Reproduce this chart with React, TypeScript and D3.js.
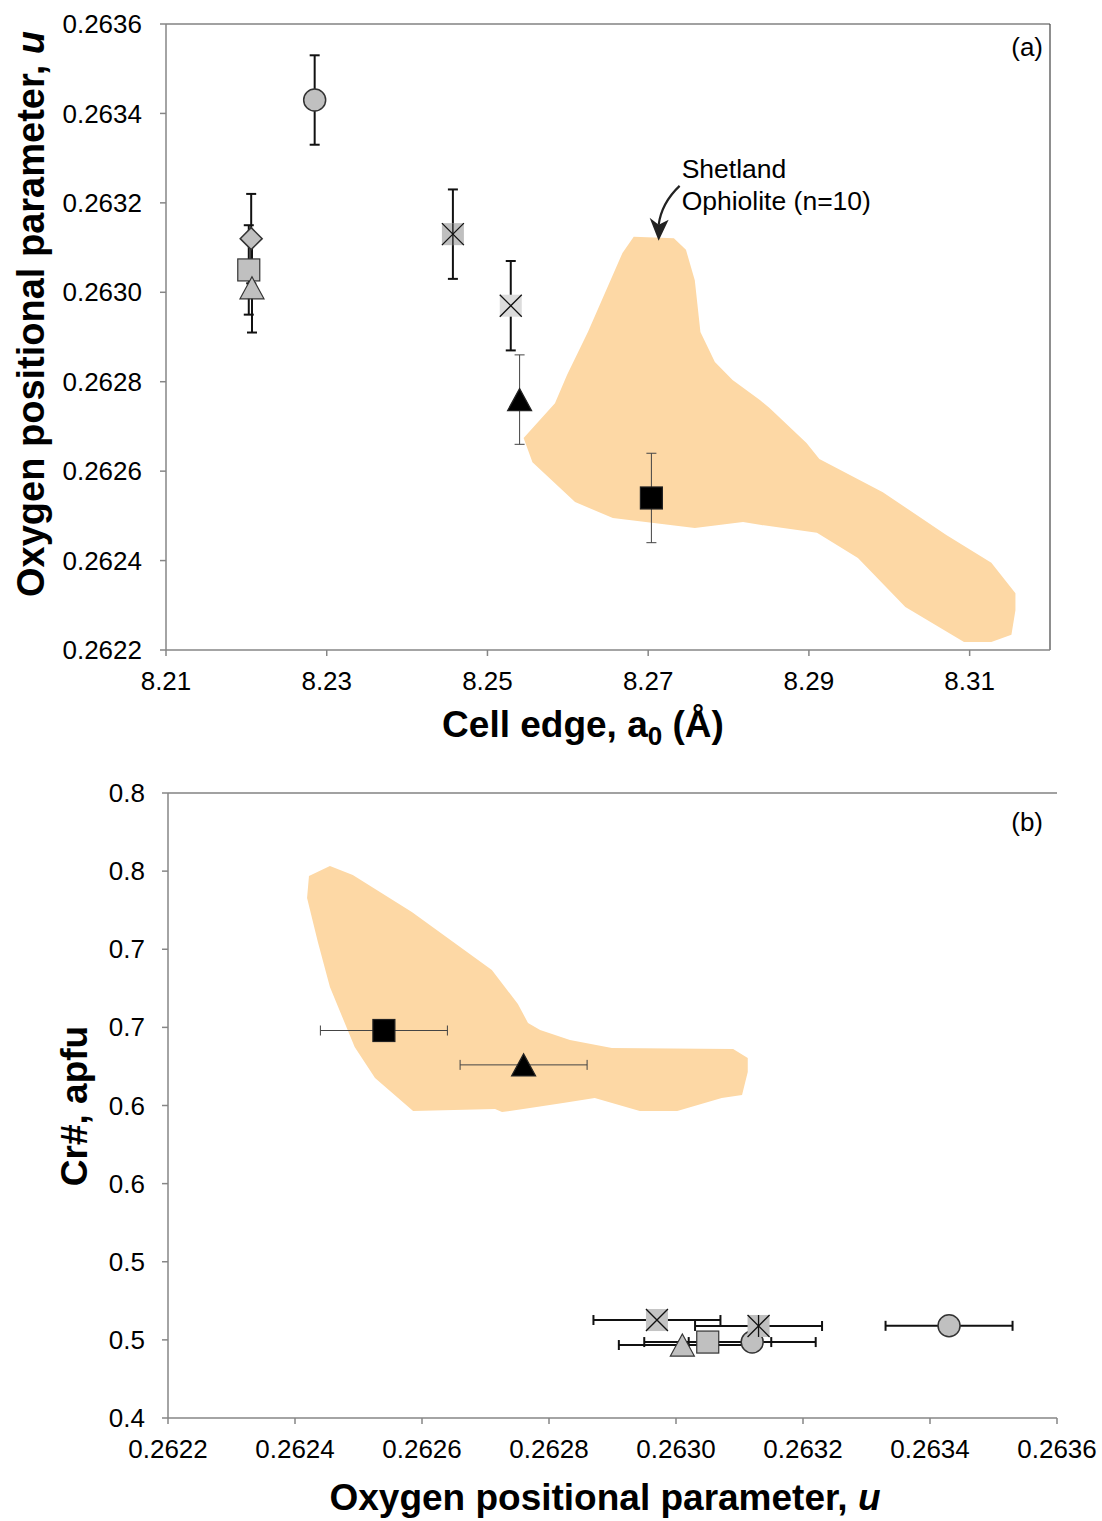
import * as d3 from "d3";

// ---- data ----
const seriesNames = ["circle", "diamond", "square", "triangle", "starSquare", "crossSquare", "blackTriangle", "blackSquare"];
const cellEdge = [8.2285, 8.2206, 8.2203, 8.2207, 8.2457, 8.2529, 8.254, 8.2704];
const oxygenU = [0.26343, 0.26312, 0.26305, 0.26301, 0.26313, 0.26297, 0.26276, 0.26254];
const oxygenUErr = [0.0001, 0.0001, 0.0001, 0.0001, 0.0001, 0.0001, 0.0001, 0.0001];
const crNumber = [0.459, 0.4486, 0.4486, 0.4467, 0.4589, 0.4627, 0.626, 0.648];

// Shetland Ophiolite field outlines
const shetlandA: [number, number][] = [
  [8.2682, 0.263124], [8.2732, 0.263121], [8.2747, 0.263095], [8.2758, 0.263027],
  [8.2765, 0.262911], [8.2783, 0.262844], [8.2805, 0.262804], [8.2839, 0.262759],
  [8.2851, 0.262741], [8.2897, 0.262663], [8.2913, 0.262627], [8.2992, 0.262553],
  [8.3071, 0.262457], [8.3127, 0.262395], [8.3157, 0.262327], [8.3157, 0.262289],
  [8.3152, 0.262234], [8.3127, 0.262218], [8.3093, 0.262218], [8.302, 0.262296],
  [8.2961, 0.262406], [8.291, 0.262462], [8.2839, 0.26248], [8.2818, 0.262486],
  [8.2758, 0.262473], [8.2656, 0.262495], [8.2609, 0.262531], [8.2556, 0.26262],
  [8.2545, 0.262674], [8.2584, 0.262752], [8.2599, 0.262815], [8.2625, 0.262911],
  [8.2668, 0.263088],
];
const shetlandB: [number, number][] = [
  [0.262422, 0.7469], [0.262455, 0.7533], [0.262491, 0.7475], [0.262584, 0.7238],
  [0.26271, 0.6867], [0.262751, 0.665], [0.262767, 0.6528], [0.262786, 0.6483],
  [0.262833, 0.6419], [0.262899, 0.6368], [0.26309, 0.6362], [0.263113, 0.6304],
  [0.263113, 0.6214], [0.263104, 0.6067], [0.263072, 0.6048], [0.263002, 0.5965],
  [0.262943, 0.5965], [0.262872, 0.6048], [0.262822, 0.6016], [0.26277, 0.5984],
  [0.262726, 0.5958], [0.262715, 0.5978], [0.262586, 0.5965], [0.262526, 0.6176],
  [0.262494, 0.6374], [0.262455, 0.6758], [0.262436, 0.7046], [0.262419, 0.7328],
];

// ticks
const cellEdgeTicks = [8.21, 8.23, 8.25, 8.27, 8.29, 8.31];
const uTicks = [0.2622, 0.2624, 0.2626, 0.2628, 0.263, 0.2632, 0.2634, 0.2636];
const crTicks = [0.4, 0.45, 0.5, 0.55, 0.6, 0.65, 0.7, 0.75, 0.8];
const crTickLabels = ["0.4", "0.5", "0.5", "0.6", "0.6", "0.7", "0.7", "0.8", "0.8"];

// marker look per series, panel a / panel b
const markerA = ["circle", "diamond", "square", "triangle", "starSquare", "crossSquare", "triangle", "square"];
const markerB = ["circle", "circle", "square", "triangle", "starSquare", "crossSquare", "triangle", "square"];
const fillA = ["#c0c0c0", "#c0c0c0", "#c0c0c0", "#c0c0c0", "#bfbfbf", "#dcdcdc", "#000", "#000"];
const fillB = ["#c0c0c0", "#c0c0c0", "#c0c0c0", "#c0c0c0", "#bfbfbf", "#c4c4c4", "#000", "#000"];

const FONT = "'Liberation Sans', Arial, Helvetica, sans-serif";
const FIELD = "#fdd8a5";
const AXIS = "#868686";
const TICK_FS = 26;
const TITLE_FS = 37;

const xA = d3.scaleLinear().domain([8.21, 8.32]).range([166, 1050]);
const yA = d3.scaleLinear().domain([0.2622, 0.2636]).range([650, 24]);
const xB = d3.scaleLinear().domain([0.2622, 0.2636]).range([168, 1057]);
const yB = d3.scaleLinear().domain([0.4, 0.8]).range([1418, 793]);

const Marker = ({ type, x, y, fill }: { type: string; x: number; y: number; fill: string }) => {
  const s = 11;
  const black = fill === "#000";
  const stroke = black ? "#222" : "#333";
  if (type === "circle") return <circle cx={x} cy={y} r={s} fill={fill} stroke={stroke} strokeWidth={1.5} />;
  if (type === "diamond")
    return <path d={`M${x},${y - s}L${x + s},${y}L${x},${y + s}L${x - s},${y}Z`} fill={fill} stroke={stroke} strokeWidth={1.5} />;
  if (type === "triangle")
    return <path d={`M${x},${y - s}L${x + 12},${y + s}L${x - 12},${y + s}Z`} fill={fill} stroke={stroke} strokeWidth={1.2} />;
  if (type === "square")
    return <rect x={x - s} y={y - s} width={2 * s} height={2 * s} fill={fill} stroke={stroke} strokeWidth={1.2} />;
  // cross squares
  return (
    <g>
      <rect x={x - s} y={y - s} width={2 * s} height={2 * s} fill={fill} />
      <path d={`M${x - s},${y - s}L${x + s},${y + s}M${x + s},${y - s}L${x - s},${y + s}`} stroke="#111" strokeWidth={1.3} />
      {type === "starSquare" && <path d={`M${x},${y - s}L${x},${y + s}`} stroke="#111" strokeWidth={1.3} />}
    </g>
  );
};

const App = () => {
  const area = d3.line().curve(d3.curveLinearClosed);
  const polyA = area(shetlandA.map(([e, u]) => [xA(e), yA(u)]) as [number, number][]) ?? "";
  const polyB = area(shetlandB.map(([u, c]) => [xB(u), yB(c)]) as [number, number][]) ?? "";

  const tip = { x: xA(8.2713), y: yA(0.263115) };

  return (
    <svg width={1102} height={1521} style={{ position: "absolute", left: 0, top: 0, background: "#fff" }} fontFamily={FONT}>
      {/* ---------- panel (a) ---------- */}
      <path d={polyA} fill={FIELD} />
      <line x1={166} x2={1050} y1={24} y2={24} stroke="#444" strokeWidth={1.2} />
      <line x1={1050} x2={1050} y1={24} y2={650} stroke="#444" strokeWidth={1.2} />
      <line x1={166} x2={166} y1={24} y2={650} stroke={AXIS} strokeWidth={1.5} />
      <line x1={166} x2={1050} y1={650} y2={650} stroke={AXIS} strokeWidth={1.5} />
      {uTicks.map((t) => (
        <g key={"ya" + t}>
          <line x1={160} x2={166} y1={yA(t)} y2={yA(t)} stroke={AXIS} strokeWidth={1.5} />
          <text x={142} y={yA(t)} dy="0.35em" textAnchor="end" fontSize={TICK_FS}>{t.toFixed(4)}</text>
        </g>
      ))}
      {cellEdgeTicks.map((t) => (
        <g key={"xa" + t}>
          <line x1={xA(t)} x2={xA(t)} y1={650} y2={656} stroke={AXIS} strokeWidth={1.5} />
          <text x={xA(t)} y={690} textAnchor="middle" fontSize={TICK_FS}>{t.toFixed(2)}</text>
        </g>
      ))}
      {seriesNames.map((n, i) => {
        const thin = fillA[i] === "#000";
        const x = xA(cellEdge[i]);
        const y0 = yA(oxygenU[i] - oxygenUErr[i]);
        const y1 = yA(oxygenU[i] + oxygenUErr[i]);
        const st = thin ? "#444" : "#111";
        const w = thin ? 1 : 2;
        return (
          <g key={"ea" + n}>
            <line x1={x} x2={x} y1={y0} y2={y1} stroke={st} strokeWidth={w} />
            <line x1={x - 5} x2={x + 5} y1={y0} y2={y0} stroke={st} strokeWidth={w} />
            <line x1={x - 5} x2={x + 5} y1={y1} y2={y1} stroke={st} strokeWidth={w} />
          </g>
        );
      })}
      {seriesNames.map((n, i) => (
        <Marker key={"ma" + n} type={markerA[i]} x={xA(cellEdge[i])} y={yA(oxygenU[i])} fill={fillA[i]} />
      ))}
      <text x={1043} y={56} textAnchor="end" fontSize={TICK_FS}>(a)</text>
      <text x={tip.x + 23} y={tip.y - 63} fontSize={26.5}>Shetland</text>
      <text x={tip.x + 23} y={tip.y - 31} fontSize={26.5}>Ophiolite (n=10)</text>
      <path d={`M${tip.x + 21},${tip.y - 55}Q${tip.x + 3},${tip.y - 38} ${tip.x},${tip.y - 16}`} fill="none" stroke="#222" strokeWidth={2.2} />
      <path d={`M${tip.x},${tip.y}L${tip.x - 9},${tip.y - 23}L${tip.x},${tip.y - 16}L${tip.x + 10},${tip.y - 21}Z`} fill="#222" />
      <text transform="translate(44,314) rotate(-90)" textAnchor="middle" fontSize={38} fontWeight="bold">
        Oxygen positional parameter, <tspan fontStyle="italic">u</tspan>
      </text>
      <text x={583} y={737} textAnchor="middle" fontSize={TITLE_FS} fontWeight="bold">
        Cell edge, a<tspan fontSize={26} dy={8}>0</tspan>
        <tspan dy={-8}> (Å)</tspan>
      </text>

      {/* ---------- panel (b) ---------- */}
      <path d={polyB} fill={FIELD} />
      <line x1={168} x2={1057} y1={793} y2={793} stroke="#444" strokeWidth={1.2} />
      <line x1={168} x2={168} y1={793} y2={1418} stroke={AXIS} strokeWidth={1.5} />
      <line x1={168} x2={1057} y1={1418} y2={1418} stroke={AXIS} strokeWidth={1.5} />
      {crTicks.map((t, i) => (
        <g key={"yb" + t}>
          <line x1={162} x2={168} y1={yB(t)} y2={yB(t)} stroke={AXIS} strokeWidth={1.5} />
          <text x={145} y={yB(t)} dy="0.35em" textAnchor="end" fontSize={TICK_FS}>{crTickLabels[i]}</text>
        </g>
      ))}
      {uTicks.map((t) => (
        <g key={"xb" + t}>
          <line x1={xB(t)} x2={xB(t)} y1={1418} y2={1424} stroke={AXIS} strokeWidth={1.5} />
          <text x={xB(t)} y={1458} textAnchor="middle" fontSize={TICK_FS}>{t.toFixed(4)}</text>
        </g>
      ))}
      {seriesNames.map((n, i) => {
        const thin = fillB[i] === "#000";
        const y = yB(crNumber[i]);
        const x0 = xB(oxygenU[i] - oxygenUErr[i]);
        const x1 = xB(oxygenU[i] + oxygenUErr[i]);
        const st = thin ? "#444" : "#111";
        const w = thin ? 1 : 2;
        return (
          <g key={"eb" + n}>
            <line x1={x0} x2={x1} y1={y} y2={y} stroke={st} strokeWidth={w} />
            <line x1={x0} x2={x0} y1={y - 5} y2={y + 5} stroke={st} strokeWidth={w} />
            <line x1={x1} x2={x1} y1={y - 5} y2={y + 5} stroke={st} strokeWidth={w} />
          </g>
        );
      })}
      {seriesNames.map((n, i) => (
        <Marker key={"mb" + n} type={markerB[i]} x={xB(oxygenU[i])} y={yB(crNumber[i])} fill={fillB[i]} />
      ))}
      <text x={1043} y={831} textAnchor="end" fontSize={TICK_FS}>(b)</text>
      <text transform="translate(87,1106) rotate(-90)" textAnchor="middle" fontSize={TITLE_FS} fontWeight="bold">
        Cr#, apfu
      </text>
      <text x={605} y={1510} textAnchor="middle" fontSize={TITLE_FS} fontWeight="bold">
        Oxygen positional parameter, <tspan fontStyle="italic">u</tspan>
      </text>
    </svg>
  );
};

export default App;
